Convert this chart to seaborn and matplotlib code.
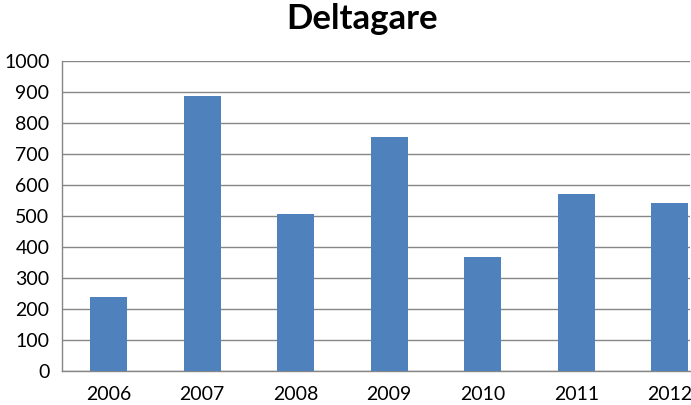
import matplotlib
matplotlib.use('Agg')
import matplotlib.pyplot as plt
import seaborn as sns
import pandas as pd
from matplotlib.ticker import FixedLocator

years = ['2006', '2007', '2008', '2009', '2010', '2011', '2012']
deltagare = [240, 888, 507, 756, 368, 572, 542]
y_ticks = list(range(0, 1001, 100))

df = pd.DataFrame({'year': years, 'deltagare': deltagare})

sns.set_style('white')
plt.rcParams['font.family'] = ['Lato', 'DejaVu Sans']
plt.rcParams['text.color'] = 'black'
plt.rcParams['xtick.labelcolor'] = 'black'
plt.rcParams['ytick.labelcolor'] = 'black'

W, H = 691, 405
fig = plt.figure(figsize=(W / 100, H / 100), dpi=100)
ax = fig.add_axes([62 / W, (H - 371) / H, (690 - 62) / W, (371 - 61.3) / H])

sns.barplot(data=df, x='year', y='deltagare', color='#4F81BD', width=0.4,
            saturation=1, linewidth=0, ax=ax, zorder=3)

grid_c = '#868686'
ax.set_ylim(0, 1000)
ax.set_xlim(-0.5, 6.217)
ax.set_yticks(y_ticks)
ax.set_yticklabels([str(v) for v in y_ticks], fontsize=14)
ax.yaxis.grid(True, color=grid_c, linewidth=1, zorder=0)
ax.set_axisbelow(True)

ax.set_xticks(range(len(years)))
ax.set_xticklabels(years, fontsize=14)
ax.tick_params(axis='x', which='major', length=0, pad=11)
ax.xaxis.set_minor_locator(FixedLocator([i - 0.5 for i in range(len(years) + 1)]))
ax.tick_params(axis='x', which='minor', length=6, color=grid_c, width=1, direction='out')
ax.tick_params(axis='y', length=6, color=grid_c, width=1, direction='out', pad=3)

for s in ['top', 'right']:
    ax.spines[s].set_visible(False)
for s in ['left', 'bottom']:
    ax.spines[s].set_color(grid_c)
    ax.spines[s].set_linewidth(1)

ax.set_xlabel('')
ax.set_ylabel('')

fig.text(362 / W, 1 - 19 / H, 'Deltagare', ha='center', va='center',
         fontsize=25, fontweight='bold', color='black')

fig.savefig('out.png', dpi=100)
